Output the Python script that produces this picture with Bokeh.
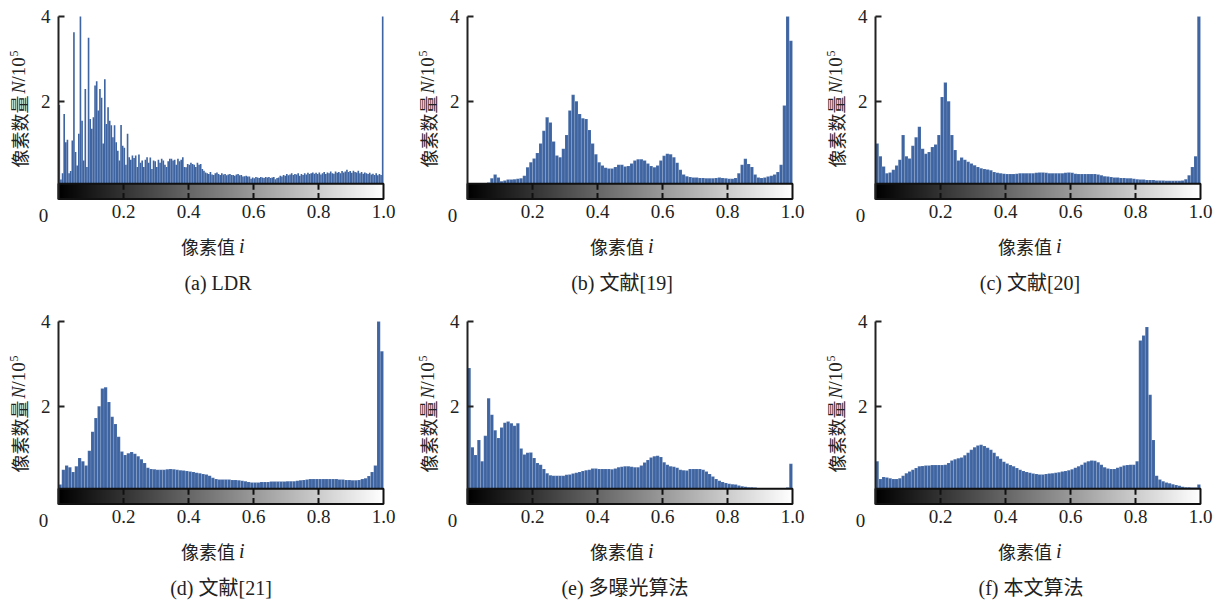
import math
import numpy as np
from bokeh.plotting import figure
from bokeh.models import (Range1d, FixedTicker, Label, LinearColorMapper,
                          NumeralTickFormatter, LinearAxis)
from bokeh.layouts import column, row
from bokeh.palettes import Greys256
from bokeh.embed import file_html
from bokeh.resources import INLINE

# ---------------- data (pixel counts, unit 10^5) ----------------
ldr_counts = [
    1.91, 0.15, 0.30, 1.70, 1.03, 1.09, 0.30, 0.35, 1.07, 3.63,
    0.80, 0.48, 1.23, 4.00, 1.54, 0.60, 2.29, 0.45, 3.50, 1.58,
    1.35, 1.62, 2.37, 2.47, 1.78, 2.29, 2.08, 1.00, 2.52, 1.46,
    1.86, 1.54, 1.43, 1.15, 1.43, 1.03, 0.83, 0.60, 1.44, 0.95,
    0.90, 0.50, 1.23, 0.68, 0.62, 0.72, 0.66, 0.72, 0.45, 0.74,
    0.55, 0.60, 0.45, 0.62, 0.68, 0.55, 0.67, 0.40, 0.60, 0.58,
    0.45, 0.62, 0.55, 0.64, 0.60, 0.50, 0.45, 0.58, 0.64, 0.64,
    0.60, 0.62, 0.50, 0.64, 0.58, 0.62, 0.68, 0.45, 0.44, 0.52,
    0.50, 0.55, 0.52, 0.50, 0.45, 0.55, 0.50, 0.52, 0.40, 0.36,
    0.32, 0.30, 0.28, 0.33, 0.27, 0.26, 0.30, 0.32, 0.28, 0.26,
    0.30, 0.27, 0.28, 0.25, 0.27, 0.28, 0.26, 0.26, 0.24, 0.27,
    0.28, 0.25, 0.26, 0.22, 0.23, 0.24, 0.22, 0.22, 0.17, 0.20,
    0.18, 0.21, 0.20, 0.19, 0.21, 0.20, 0.19, 0.21, 0.20, 0.21,
    0.19, 0.20, 0.21, 0.16, 0.19, 0.20, 0.24, 0.22, 0.26, 0.24,
    0.28, 0.25, 0.27, 0.30, 0.26, 0.28, 0.27, 0.30, 0.24, 0.28,
    0.26, 0.30, 0.27, 0.31, 0.28, 0.30, 0.32, 0.29, 0.31, 0.28,
    0.32, 0.27, 0.30, 0.33, 0.28, 0.32, 0.30, 0.34, 0.30, 0.29,
    0.34, 0.31, 0.33, 0.30, 0.35, 0.32, 0.34, 0.38, 0.33, 0.35,
    0.31, 0.36, 0.33, 0.32, 0.36, 0.30, 0.33, 0.29, 0.32, 0.30,
    0.28, 0.31, 0.27, 0.29, 0.26, 0.30, 0.25, 0.28, 0.26, 4.00,
]
ref19_counts = [
    0.04, 0.04, 0.04, 0.04, 0.04, 0.05, 0.08, 0.18, 0.27, 0.20,
    0.11, 0.13, 0.15, 0.15, 0.16, 0.17, 0.18, 0.24, 0.44, 0.56,
    0.65, 0.78, 1.00, 1.30, 1.62, 1.50, 1.05, 0.72, 0.68, 0.88,
    1.20, 1.78, 2.15, 2.00, 1.70, 1.60, 1.58, 1.32, 1.00, 0.75,
    0.56, 0.48, 0.43, 0.41, 0.41, 0.45, 0.50, 0.50, 0.46, 0.47,
    0.53, 0.60, 0.63, 0.63, 0.60, 0.53, 0.47, 0.44, 0.48, 0.60,
    0.71, 0.76, 0.75, 0.68, 0.55, 0.38, 0.27, 0.23, 0.21, 0.20,
    0.20, 0.19, 0.19, 0.18, 0.18, 0.18, 0.19, 0.20, 0.19, 0.18,
    0.17, 0.17, 0.19, 0.30, 0.50, 0.64, 0.52, 0.45, 0.27, 0.20,
    0.19, 0.20, 0.22, 0.24, 0.27, 0.33, 0.50, 1.90, 4.00, 3.43,
]
ref20_counts = [
    1.00, 0.70, 0.46, 0.30, 0.32, 0.38, 0.48, 0.62, 1.20, 0.70,
    0.65, 0.95, 1.15, 1.40, 0.88, 0.76, 0.80, 0.92, 0.98, 1.20,
    2.10, 2.44, 2.00, 1.20, 0.85, 0.60, 0.67, 0.62, 0.57, 0.53,
    0.49, 0.45, 0.42, 0.40, 0.39, 0.37, 0.33, 0.31, 0.30, 0.29,
    0.28, 0.28, 0.28, 0.29, 0.30, 0.30, 0.30, 0.30, 0.30, 0.31,
    0.32, 0.32, 0.31, 0.30, 0.30, 0.30, 0.30, 0.30, 0.31, 0.32,
    0.31, 0.29, 0.28, 0.28, 0.28, 0.28, 0.28, 0.28, 0.27, 0.25,
    0.23, 0.22, 0.21, 0.20, 0.20, 0.19, 0.19, 0.18, 0.18, 0.17,
    0.16, 0.15, 0.15, 0.14, 0.14, 0.14, 0.13, 0.13, 0.13, 0.12,
    0.12, 0.12, 0.12, 0.12, 0.13, 0.16, 0.25, 0.45, 0.70, 4.00,
]
ref21_counts = [
    0.15, 0.50, 0.60, 0.56, 0.45, 0.58, 0.78, 0.70, 0.60, 0.95,
    1.40, 1.72, 2.00, 2.42, 2.45, 2.10, 1.75, 1.58, 1.28, 0.93,
    0.85, 0.89, 0.92, 0.88, 0.82, 0.75, 0.66, 0.55, 0.52, 0.51,
    0.50, 0.50, 0.50, 0.51, 0.52, 0.51, 0.50, 0.49, 0.48, 0.47,
    0.46, 0.45, 0.43, 0.42, 0.40, 0.39, 0.36, 0.31, 0.28, 0.27,
    0.27, 0.27, 0.27, 0.26, 0.26, 0.25, 0.24, 0.23, 0.21, 0.20,
    0.20, 0.20, 0.21, 0.21, 0.21, 0.22, 0.22, 0.22, 0.22, 0.22,
    0.23, 0.23, 0.23, 0.24, 0.25, 0.26, 0.27, 0.28, 0.28, 0.28,
    0.28, 0.28, 0.28, 0.28, 0.28, 0.28, 0.27, 0.27, 0.26, 0.26,
    0.25, 0.25, 0.26, 0.28, 0.30, 0.35, 0.45, 0.60, 4.00, 3.30,
]
multi_exposure_counts = [
    2.90, 1.03, 0.85, 1.20, 0.70, 1.30, 2.19, 1.80, 1.43, 1.25,
    1.50, 1.61, 1.64, 1.60, 1.54, 1.60, 1.00, 0.86, 0.90, 0.91,
    0.78, 0.66, 0.62, 0.52, 0.42, 0.37, 0.36, 0.36, 0.36, 0.36,
    0.38, 0.39, 0.41, 0.43, 0.45, 0.47, 0.49, 0.50, 0.53, 0.53,
    0.52, 0.52, 0.52, 0.52, 0.51, 0.53, 0.56, 0.57, 0.58, 0.58,
    0.57, 0.56, 0.56, 0.60, 0.67, 0.73, 0.79, 0.82, 0.83, 0.80,
    0.68, 0.62, 0.58, 0.57, 0.55, 0.50, 0.49, 0.48, 0.52, 0.52,
    0.52, 0.52, 0.50, 0.46, 0.40, 0.34, 0.28, 0.24, 0.21, 0.19,
    0.17, 0.16, 0.15, 0.13, 0.11, 0.10, 0.09, 0.09, 0.08, 0.07,
    0.07, 0.06, 0.06, 0.06, 0.06, 0.06, 0.06, 0.06, 0.08, 0.64,
]
ours_counts = [
    0.70, 0.28, 0.33, 0.32, 0.30, 0.28, 0.28, 0.30, 0.36, 0.42,
    0.46, 0.50, 0.54, 0.58, 0.59, 0.60, 0.60, 0.61, 0.61, 0.61,
    0.61, 0.62, 0.66, 0.72, 0.75, 0.77, 0.79, 0.84, 0.90, 0.97,
    1.03, 1.07, 1.09, 1.06, 1.02, 0.97, 0.90, 0.82, 0.76, 0.69,
    0.65, 0.61, 0.58, 0.54, 0.50, 0.47, 0.45, 0.43, 0.41, 0.40,
    0.39, 0.39, 0.40, 0.41, 0.42, 0.43, 0.44, 0.46, 0.47, 0.49,
    0.51, 0.55, 0.58, 0.62, 0.67, 0.70, 0.72, 0.71, 0.68, 0.62,
    0.56, 0.53, 0.52, 0.52, 0.55, 0.57, 0.60, 0.61, 0.62, 0.62,
    0.70, 3.55, 3.67, 3.87, 2.27, 1.20, 0.36, 0.27, 0.23, 0.20,
    0.18, 0.16, 0.14, 0.12, 0.10, 0.09, 0.09, 0.08, 0.08, 0.15,
]

panel_tags = ["(a)", "(b)", "(c)", "(d)", "(e)", "(f)"]
panel_names = ["LDR", "文献[19]", "文献[20]", "文献[21]", "多曝光算法", "本文算法"]
panel_series = [ldr_counts, ref19_counts, ref20_counts, ref21_counts,
                multi_exposure_counts, ours_counts]

x_tick_values = [0.2, 0.4, 0.6, 0.8, 1.0]
x_zero_label = "0"
y_tick_values = [2, 4]
y_label_cn = "像素数量"
y_label_var = "N"
y_label_unit = "/10"
y_label_exp = "5"
x_label_cn = "像素值"
x_label_var = "i"

# ---------------- style / layout ----------------
BAR = "#3e64a1"
INK = "#222222"
SERIF = "'Liberation Serif', 'Noto Sans CJK SC', serif"
CJK = "'Noto Sans CJK SC', sans-serif"
Y_TOP = 4.0
GRAD_LO, GRAD_HI = -0.31, 0.05
PX_Y = 42.36          # pixels per y unit
PX_X = 325.0          # pixels per x unit
TOP = 16              # pixels from figure top to y = 4
CAPTION_SHIFT = [-3, -8, -8, 0, -5, -7]


def make_panel(idx, W, L, H):
    def dx(px):
        return (px - L) / PX_X

    def dy(py):
        return Y_TOP - (py - TOP) / PX_Y

    values = panel_series[idx]
    n = len(values)
    centers = (np.arange(n) + 0.5) / n
    p = figure(width=W, height=H, x_range=Range1d(dx(0), dx(W)),
               y_range=Range1d(dy(H), dy(0)), output_backend="svg",
               toolbar_location=None, x_axis_location=None,
               y_axis_location=None, min_border=0)
    p.outline_line_color = None
    p.grid.visible = False
    p.background_fill_color = "white"
    p.border_fill_color = "white"

    if n > 150:
        p.vbar(x=centers, width=1.0 / n, top=values, bottom=0,
               fill_color=BAR, line_color=None)
    else:
        p.vbar(x=centers, width=1.0 / n, top=values, bottom=0,
               fill_color=BAR, line_color="white", line_alpha=0.22,
               line_width=0.5)

    # grey colour strip under the histogram
    mapper = LinearColorMapper(palette=Greys256, low=0, high=1)
    p.image(image=[np.linspace(0, 1, 256)[None, :]], x=0, y=GRAD_LO,
            dw=1, dh=GRAD_HI - GRAD_LO, color_mapper=mapper)
    p.quad(left=[0], right=[1], bottom=[GRAD_LO], top=[GRAD_HI],
           fill_color=None, line_color="#111111", line_width=2)
    tk = x_tick_values[:-1]
    tl = 6 / PX_Y
    p.segment(x0=tk, y0=[GRAD_HI] * len(tk), x1=tk, y1=[GRAD_HI - tl] * len(tk),
              line_color="#111111", line_width=2)
    p.segment(x0=tk, y0=[GRAD_LO] * len(tk), x1=tk, y1=[GRAD_LO + tl] * len(tk),
              line_color="#111111", line_width=2)

    # y axis (fixed at x = 0)
    ya = LinearAxis(fixed_location=0, bounds=(GRAD_LO, Y_TOP),
                    ticker=FixedTicker(ticks=y_tick_values))
    ya.minor_tick_line_color = None
    ya.major_tick_in = 6
    ya.major_tick_out = 0
    ya.major_tick_line_width = 2
    ya.major_tick_line_color = INK
    ya.axis_line_width = 2
    ya.axis_line_color = INK
    ya.major_label_standoff = 8
    ya.major_label_text_font = SERIF
    ya.major_label_text_font_size = "19px"
    ya.major_label_text_color = INK
    p.add_layout(ya, "left")

    # x axis (fixed at the bottom of the grey strip)
    xa = LinearAxis(fixed_location=GRAD_LO, ticker=FixedTicker(ticks=x_tick_values),
                    formatter=NumeralTickFormatter(format="0.0"))
    xa.minor_tick_line_color = None
    xa.major_tick_in = 0
    xa.major_tick_out = 0
    xa.axis_line_color = None
    xa.major_label_standoff = 6
    xa.major_label_text_font = SERIF
    xa.major_label_text_font_size = "19px"
    xa.major_label_text_color = INK
    p.add_layout(xa, "below")

    # "0" tick label sits left of the axis as in the original
    p.add_layout(Label(x=dx(L - 15), y=dy(215), text=x_zero_label,
                       text_font=SERIF, text_font_size="19px", text_color=INK,
                       text_align="center", text_baseline="middle"))

    # y axis title, bottom-to-top
    common = dict(angle=math.pi / 2, text_align="left",
                  text_baseline="middle", text_color=INK)
    p.add_layout(Label(x=dx(L - 40), y=dy(167), text=y_label_cn, text_font=CJK,
                       text_font_size="18px", **common))
    p.add_layout(Label(x=dx(L - 40), y=dy(93), text=y_label_var, text_font=SERIF,
                       text_font_style="italic", text_font_size="18px", **common))
    p.add_layout(Label(x=dx(L - 40), y=dy(81), text=y_label_unit, text_font=SERIF,
                       text_font_size="19px", **common))
    p.add_layout(Label(x=dx(L - 45), y=dy(56), text=y_label_exp, text_font=SERIF,
                       text_font_size="12px", **common))

    # x axis title
    cx = L + PX_X / 2
    p.add_layout(Label(x=dx(cx + 14), y=dy(245), text=x_label_cn, text_font=CJK,
                       text_font_size="18px", text_color=INK,
                       text_align="right", text_baseline="middle"))
    p.add_layout(Label(x=dx(cx + 18), y=dy(245), text=x_label_var, text_font=SERIF,
                       text_font_style="italic", text_font_size="20px",
                       text_color=INK, text_align="left", text_baseline="middle"))

    # panel caption
    p.add_layout(Label(x=dx(cx + CAPTION_SHIFT[idx]), y=dy(282),
                       text=panel_tags[idx] + " " + panel_names[idx],
                       text_font=SERIF, text_font_size="20px", text_color=INK,
                       text_align="center", text_baseline="middle"))
    return p


cols = [(413, 58), (405, 54), (404, 57)]
row_heights = [305, 295]

grid_rows = []
for r, h in enumerate(row_heights):
    figs = [make_panel(r * 3 + c, w, l, h) for c, (w, l) in enumerate(cols)]
    grid_rows.append(row(*figs, spacing=0))

layout = column(*grid_rows, spacing=0)

open("out.html", "w").write(file_html(layout, INLINE))
